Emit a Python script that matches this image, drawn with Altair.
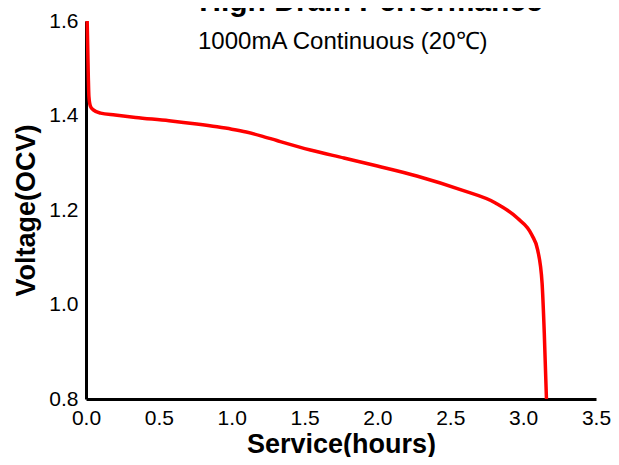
import altair as alt
import pandas as pd

# Discharge curve
hours = [0.008, 0.012, 0.016, 0.02, 0.03, 0.05, 0.1, 0.2, 0.34, 0.57, 0.76, 0.9,
         1.0, 1.1, 1.2, 1.31, 1.54, 1.77, 2.0, 2.27, 2.58, 2.81, 2.96, 3.06,
         3.10, 3.13, 3.145, 3.16]
volts = [1.600, 1.540, 1.480, 1.440, 1.420, 1.412, 1.405, 1.401, 1.396, 1.389, 1.382, 1.376,
         1.371, 1.365, 1.357, 1.347, 1.327, 1.310, 1.293, 1.272, 1.242, 1.215, 1.183, 1.147,
         1.115, 1.045, 0.940, 0.800]

x_ticks = [0.0, 0.5, 1.0, 1.5, 2.0, 2.5, 3.0, 3.5]
y_ticks = [0.8, 1.0, 1.2, 1.4, 1.6]

title_text = "High Drain Performance"
subtitle_text = "1000mA Continuous (20\u2103)"

FONT = "Liberation Sans"

df = pd.DataFrame({"hours": hours, "volts": volts})

line = alt.Chart(df).mark_line(color="#ff0000", strokeWidth=3.5, interpolate="monotone").encode(
    x=alt.X("hours:Q",
            scale=alt.Scale(domain=[0, 3.5], nice=False, zero=False),
            axis=alt.Axis(values=x_ticks, format=".1f", title="Service(hours)",
                          labelFlush=False, titleBaseline="alphabetic", titleY=53)),
    y=alt.Y("volts:Q",
            scale=alt.Scale(domain=[0.8, 1.6], nice=False, zero=False),
            axis=alt.Axis(values=y_ticks, format=".1f", title="Voltage(OCV)",
                          labelFlush=False, titleBaseline="middle", titleX=-60)),
)

tdf = pd.DataFrame({"t": [title_text]})
sdf = pd.DataFrame({"t": [subtitle_text]})

title_mark = alt.Chart(tdf).mark_text(
    font=FONT, fontSize=30, fontWeight="bold", align="center", baseline="alphabetic", color="black"
).encode(x=alt.value(285), y=alt.value(-10), text="t:N")

subtitle_mark = alt.Chart(sdf).mark_text(
    font=FONT, fontSize=24, align="left", baseline="alphabetic", color="black"
).encode(x=alt.value(112), y=alt.value(28), text="t:N")

chart = alt.layer(line, title_mark, subtitle_mark).properties(
    width=510, height=378,
    autosize=alt.AutoSizeParams(type="none"),
    padding={"left": 78, "top": 13, "right": 15, "bottom": 58},
).configure_view(stroke=None).configure_axis(
    grid=False, ticks=False,
    domainColor="black", domainWidth=3,
    labelFont=FONT, labelFontSize=21, labelColor="black", labelPadding=8,
    titleFont=FONT, titleFontSize=27, titleFontWeight="bold", titleColor="black",
)

chart.save("out.html", embed_options={"renderer": "svg", "actions": False})
